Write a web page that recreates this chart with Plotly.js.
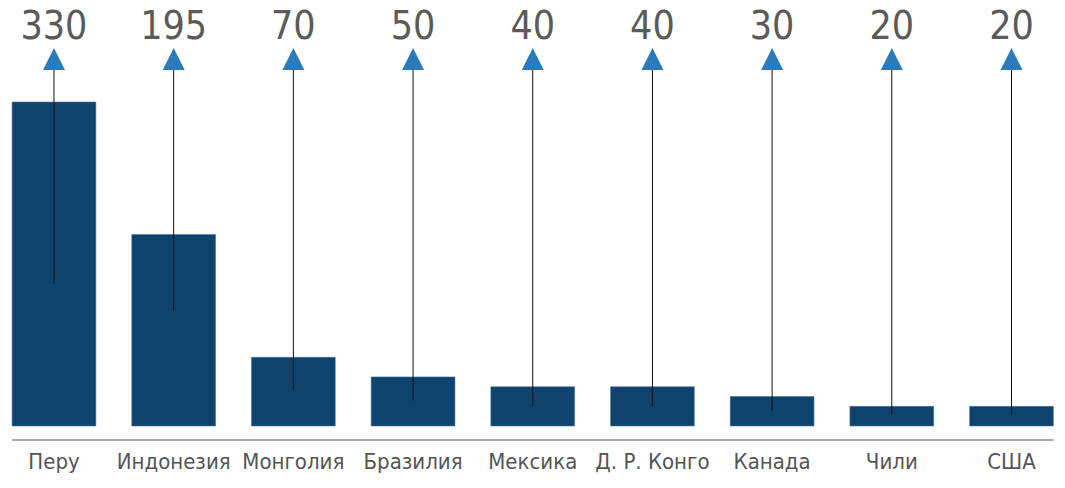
<!DOCTYPE html>
<html>
<head>
<meta charset="utf-8">
<script src="https://cdn.plot.ly/plotly-3.0.1.min.js"></script>
<style>
    html, body { margin: 0; padding: 0; background: #fff; }
    #chart { width: 1065px; height: 488px; }
</style>
</head>
<body>
<div id="chart"></div>
<script>
    var countries = ['Перу', 'Индонезия', 'Монголия', 'Бразилия', 'Мексика', 'Д. Р. Конго', 'Канада', 'Чили', 'США'];
    var values = [330, 195, 70, 50, 40, 40, 30, 20, 20];
    var valueLabels = ['330', '195', '70', '50', '40', '40', '30', '20', '20'];
    // where each thin pointer line starts inside the bar
    var pointerBase = [145, 118, 37, 26, 20, 20, 15, 11, 11];

    var arrowTip = 385;   // level of the arrow heads
    var arrowBase = 364;  // pointer lines stop under the arrow heads
    var labelLevel = 404; // level of the value labels

    var lineX = [], lineY = [];
    countries.forEach(function (c, i) {
        lineX.push(c, c, null);
        lineY.push(pointerBase[i], arrowBase, null);
    });

    var numberFont = '"Noto Sans ExtraCondensed Light", "Noto Sans ExtraCondensed", ' +
        '"Noto Sans Condensed Light", "Noto Sans Condensed", "DejaVu Sans Condensed", sans-serif';

    var traces = [
        {
            type: 'bar',
            x: countries,
            y: values,
            width: 0.7,
            marker: {color: '#0e436e', line: {color: '#4f77a0', width: 0.6}},
            hoverinfo: 'skip'
        },
        {
            type: 'scatter',
            mode: 'lines',
            x: lineX,
            y: lineY,
            line: {color: '#111', width: 1},
            hoverinfo: 'skip'
        },
        {
            type: 'scatter',
            mode: 'markers',
            x: countries,
            y: countries.map(function () { return arrowTip; }),
            marker: {symbol: 'arrow-up', size: 22, color: '#2b7bba', line: {width: 0}},
            hoverinfo: 'skip'
        },
        {
            type: 'scatter',
            mode: 'text',
            x: countries,
            y: countries.map(function () { return labelLevel; }),
            text: valueLabels,
            textposition: 'middle center',
            textfont: {family: numberFont, size: 39, weight: 300, color: '#5a5a5a'},
            hoverinfo: 'skip'
        }
    ];

    var layout = {
        width: 1065,
        height: 488,
        margin: {l: 0, r: 0, t: 0, b: 46, pad: 0},
        paper_bgcolor: '#fff',
        plot_bgcolor: '#fff',
        showlegend: false,
        xaxis: {
            type: 'category',
            range: [-0.451, 8.447],
            showgrid: false,
            zeroline: false,
            showline: false,
            ticks: '',
            tickfont: {family: 'DejaVu Sans Condensed, sans-serif', size: 22, color: '#555'},
            ticklabelstandoff: 4
        },
        yaxis: {
            range: [-16.3, 433.9],
            visible: false,
            showgrid: false,
            zeroline: false
        },
        shapes: [{
            type: 'line',
            xref: 'x', yref: 'y',
            x0: -0.35, x1: 8.35,
            y0: -14.3, y1: -14.3,
            line: {color: '#aaa', width: 2}
        }]
    };

    Plotly.newPlot('chart', traces, layout, {staticPlot: true, displayModeBar: false});
</script>
</body>
</html>
